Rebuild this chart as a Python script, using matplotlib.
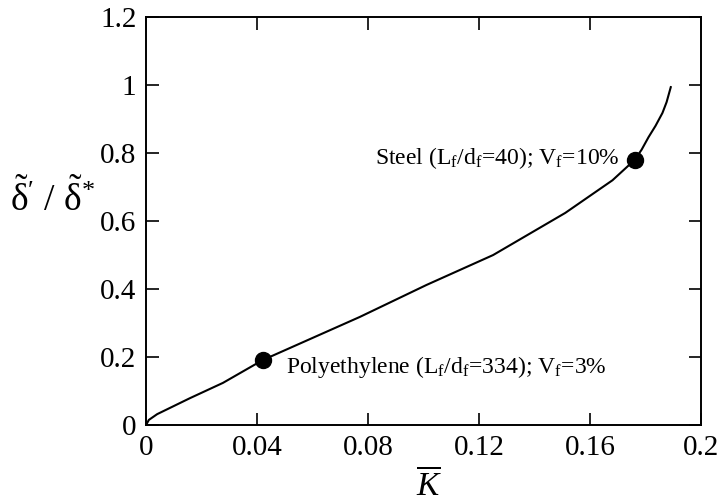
import matplotlib
matplotlib.use("Agg")
import matplotlib.pyplot as plt

plt.rcParams["font.family"] = ["Liberation Serif", "DejaVu Serif"]
plt.rcParams["mathtext.fontset"] = "custom"
plt.rcParams["mathtext.rm"] = "Liberation Serif"
plt.rcParams["mathtext.it"] = "Liberation Serif:italic"

# curve
k_bar = [0.0, 0.001, 0.004, 0.0158, 0.0277, 0.042, 0.077, 0.101, 0.125,
         0.151, 0.168, 0.176, 0.1785, 0.181, 0.1835, 0.186, 0.1875, 0.189]
ratio = [0.0, 0.015, 0.032, 0.079, 0.124, 0.191, 0.318, 0.412, 0.5,
         0.624, 0.72, 0.78, 0.81, 0.847, 0.88, 0.918, 0.95, 0.994]

# marked fibre cases
pts_x = [0.042, 0.176]
pts_y = [0.191, 0.78]

x_ticks = [0, 0.04, 0.08, 0.12, 0.16, 0.2]
x_labels = ["0", "0.04", "0.08", "0.12", "0.16", "0.2"]
y_ticks = [0, 0.2, 0.4, 0.6, 0.8, 1.0, 1.2]
y_labels = ["0", "0.2", "0.4", "0.6", "0.8", "1", "1.2"]

fig = plt.figure(figsize=(7.23, 5.03), dpi=100)
ax = fig.add_axes([0.202, 0.155, 0.768, 0.811])

ax.plot(k_bar, ratio, color="black", lw=1.5)
ax.plot(pts_x, pts_y, "o", color="black", ms=11.5)

ax.set_xlim(0, 0.2)
ax.set_ylim(0, 1.2)
ax.set_xticks(x_ticks)
ax.set_xticklabels(x_labels)
ax.set_yticks(y_ticks)
ax.set_yticklabels(y_labels)
ax.tick_params(direction="in", length=9, width=1.2, top=True, right=True,
               labelsize=21, pad=7)
for s in ax.spines.values():
    s.set_linewidth(1.4)

ax.text(0.0505, 0.17,
        r"Polyethylene (L$_\mathrm{f}$/d$_\mathrm{f}$=334); V$_\mathrm{f}$=3%",
        fontsize=17, ha="left", va="center")
ax.text(0.1705, 0.785,
        r"Steel (L$_\mathrm{f}$/d$_\mathrm{f}$=40); V$_\mathrm{f}$=10%",
        fontsize=17, ha="right", va="center")

fig.text(0.072, 0.605,
         r"$\tilde{\mathrm{\delta}}^{\prime}\ /\ \tilde{\mathrm{\delta}}^{*}$",
         fontsize=27, ha="center", va="center")
fig.text(0.593, 0.035, r"$\overline{K}$", fontsize=24, ha="center",
         va="center")

fig.savefig("out.png", dpi=100)
